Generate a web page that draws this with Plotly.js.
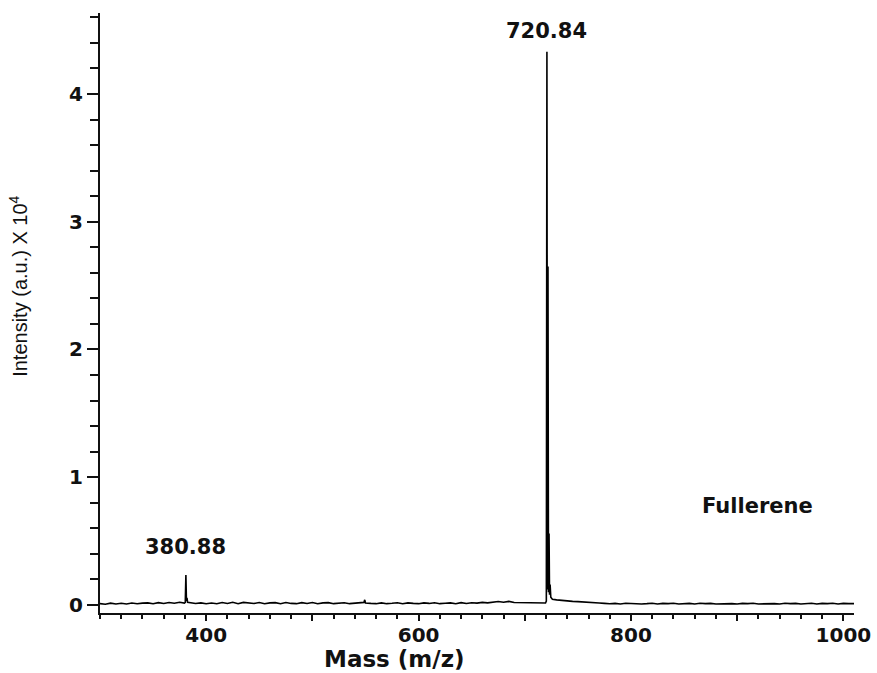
<!DOCTYPE html>
<html>
<head>
<meta charset="utf-8">
<script src="https://cdn.plot.ly/plotly-3.0.1.min.js"></script>
<style>html,body{margin:0;padding:0;background:#fff;}#chart{width:877px;height:673px;}</style>
</head>
<body>
<div id="chart"></div>
<script>
// Mass spectrum of fullerene (intensity in units of 10^4)
const mz = [
  300,305,310,315,320,325,330,335,340,345,350,355,360,365,370,375,
  379.5,380.3,380.88,381.4,381.9,382.5,385,
  390,395,400,405,410,415,420,425,430,435,440,445,450,455,460,465,470,475,480,485,490,495,500,505,510,515,520,525,530,535,540,545,
  548.5,549.3,550,
  555,560,565,570,575,580,585,590,595,600,605,610,615,620,625,630,635,640,645,650,655,660,665,670,675,680,685,690,695,700,705,710,715,
  719.5,720.3,720.84,721.3,721.84,722.3,722.84,723.3,723.84,724.5,726,730,735,740,745,750,755,760,765,770,
  775,780,785,790,795,800,805,810,815,820,825,830,835,840,845,850,855,860,865,870,875,880,885,890,895,900,905,910,915,920,925,930,935,940,945,950,955,960,965,970,975,980,985,990,995,1000,1005,1010
];
const intensity = [
  0.010,0.006,0.014,0.008,0.013,0.007,0.015,0.009,0.014,0.016,0.010,0.018,0.012,0.019,0.013,0.021,
  0.015,0.020,0.235,0.030,0.055,0.020,0.015,
  0.011,0.016,0.009,0.015,0.010,0.019,0.012,0.021,0.010,0.020,0.013,0.011,0.019,0.010,0.016,0.018,0.010,0.019,0.012,0.010,0.018,0.011,0.019,0.010,0.016,0.018,0.010,0.013,0.017,0.010,0.012,0.017,
  0.020,0.040,0.015,
  0.012,0.010,0.016,0.010,0.013,0.017,0.010,0.016,0.012,0.010,0.016,0.012,0.017,0.010,0.013,0.016,0.010,0.018,0.012,0.017,0.014,0.020,0.016,0.022,0.027,0.021,0.028,0.019,0.018,0.015,0.018,0.014,0.017,
  0.015,0.030,4.330,0.120,2.650,0.100,0.560,0.080,0.160,0.060,0.045,0.040,0.035,0.030,0.028,0.026,0.022,0.020,0.018,0.015,
  0.012,0.009,0.012,0.008,0.013,0.010,0.012,0.008,0.010,0.013,0.008,0.012,0.010,0.013,0.008,0.010,0.012,0.008,0.013,0.010,0.012,0.008,0.010,0.013,0.010,0.008,0.012,0.010,0.013,0.008,0.010,0.012,0.010,0.008,0.013,0.010,0.012,0.008,0.010,0.013,0.008,0.012,0.010,0.013,0.008,0.012,0.010,0.010
];
const xTickVals = [400,500,600,700,800,900,1000];
const xTickText = ['400','','600','','800','','1000'];
const peakLabels = [
  {mz: 380.88, y: 0.45, text: '380.88'},
  {mz: 720.84, y: 4.49, text: '720.84'}
];
const sampleName = 'Fullerene';

const boldFont = {family: 'DejaVu Sans, Arial, sans-serif', size: 21, color: '#111', weight: 'bold'};
const tickFont = {family: 'DejaVu Sans, Arial, sans-serif', size: 20, color: '#111', weight: 'bold'};

const annotations = peakLabels.map(p => ({
  x: p.mz, y: p.y, xref: 'x', yref: 'y', text: p.text, showarrow: false,
  font: boldFont, xanchor: 'center', yanchor: 'middle'
}));
annotations.push({x: 919, y: 0.775, xref: 'x', yref: 'y', text: sampleName, showarrow: false,
  font: boldFont, xanchor: 'center', yanchor: 'middle'});
annotations.push({x: 0.391, y: -0.076, xref: 'paper', yref: 'paper', text: 'Mass (m/z)', showarrow: false,
  font: {family: 'DejaVu Sans, Arial, sans-serif', size: 23, color: '#111', weight: 'bold'}, xanchor: 'center', yanchor: 'middle'});
annotations.push({x: -0.109, y: 0.545, xref: 'paper', yref: 'paper', text: 'Intensity (a.u.) X 10<sup>4</sup>', showarrow: false,
  textangle: -90,
  font: {family: 'Liberation Sans Narrow, Arial Narrow, Liberation Sans, sans-serif', size: 20, color: '#111'}, xanchor: 'center', yanchor: 'middle'});

const trace = {
  x: mz, y: intensity, type: 'scatter', mode: 'lines',
  line: {color: '#000', width: 1.6},
  hoverinfo: 'skip'
};

const layout = {
  width: 877, height: 673,
  margin: {l: 100, r: 23, t: 13, b: 60},
  paper_bgcolor: '#fff', plot_bgcolor: '#fff',
  showlegend: false,
  xaxis: {
    range: [300, 1010], showgrid: false, zeroline: false,
    showline: true, linecolor: '#111', linewidth: 2,
    ticks: 'outside', ticklen: 6, tickwidth: 2, tickcolor: '#111',
    tickmode: 'array', tickvals: xTickVals, ticktext: xTickText,
    tickfont: tickFont, ticklabelstandoff: -3,
    minor: {dtick: 20, tick0: 300, ticks: 'outside', ticklen: 4, tickwidth: 2, tickcolor: '#111', showgrid: false}
  },
  yaxis: {
    range: [-0.063, 4.634], showgrid: false, zeroline: false,
    showline: true, linecolor: '#111', linewidth: 2,
    ticks: 'outside', ticklen: 11, tickwidth: 2, tickcolor: '#111',
    tick0: 0, dtick: 1,
    tickfont: tickFont,
    minor: {dtick: 0.2, tick0: 0, ticks: 'outside', ticklen: 8, tickwidth: 2, tickcolor: '#111', showgrid: false}
  },
  annotations: annotations
};

Plotly.newPlot('chart', [trace], layout, {displayModeBar: false, staticPlot: true});
</script>
</body>
</html>
